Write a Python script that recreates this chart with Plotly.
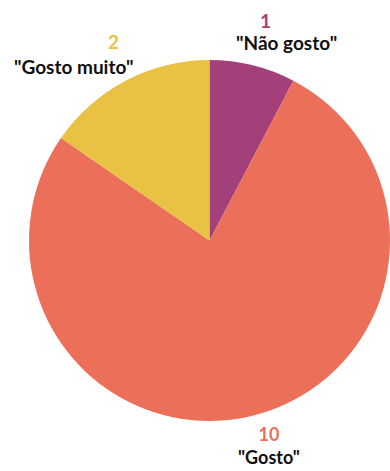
import plotly.graph_objects as go

# Survey answers and counts
labels = ['"Não gosto"', '"Gosto"', '"Gosto muito"']
values = [1, 10, 2]
colors = ["#A3407A", "#EC6F5A", "#E9C244"]

W, H = 390, 471

fig = go.Figure(
    go.Pie(
        labels=labels,
        values=values,
        marker=dict(colors=colors, line=dict(width=0)),
        sort=False,
        direction="clockwise",
        rotation=0,
        textinfo="none",
        hoverinfo="label+value",
        showlegend=False,
        domain=dict(x=[29 / W, 1.0], y=[(H - 422) / H, (H - 59) / H]),
    )
)

font_family = "Lato, 'Open Sans', sans-serif"


def px(x, y):
    return x / W, 1 - y / H


annotations = []

# Top labels: value above the answer text, each placed separately
top_pos = {0: ((265, 21), (286, 43)), 2: ((113, 42), (73, 67))}
for i, (vpos, npos) in top_pos.items():
    vx, vy = px(*vpos)
    nx, ny = px(*npos)
    annotations.append(dict(
        x=vx, y=vy, xref="paper", yref="paper",
        text=f"<b>{values[i]}</b>", showarrow=False,
        font=dict(family=font_family, size=19, color=colors[i]),
        xanchor="center", yanchor="middle",
    ))
    annotations.append(dict(
        x=nx, y=ny, xref="paper", yref="paper",
        text=f"<b>{labels[i]}</b>", showarrow=False,
        font=dict(family=font_family, size=19, color="#111111"),
        xanchor="center", yanchor="middle",
    ))

# Bottom label: value and answer text stacked in one block
bx, by = px(269, 445)
annotations.append(dict(
    x=bx, y=by, xref="paper", yref="paper",
    text=(f"<span style='color:{colors[1]}'><b>{values[1]}</b></span>"
          f"<br><b>{labels[1]}</b>"),
    showarrow=False, align="center",
    font=dict(family=font_family, size=18, color="#111111"),
    xanchor="center", yanchor="middle",
))

fig.update_layout(
    width=W,
    height=H,
    margin=dict(l=0, r=0, t=0, b=0),
    paper_bgcolor="white",
    plot_bgcolor="white",
    annotations=annotations,
)

fig.write_html("out.html")
